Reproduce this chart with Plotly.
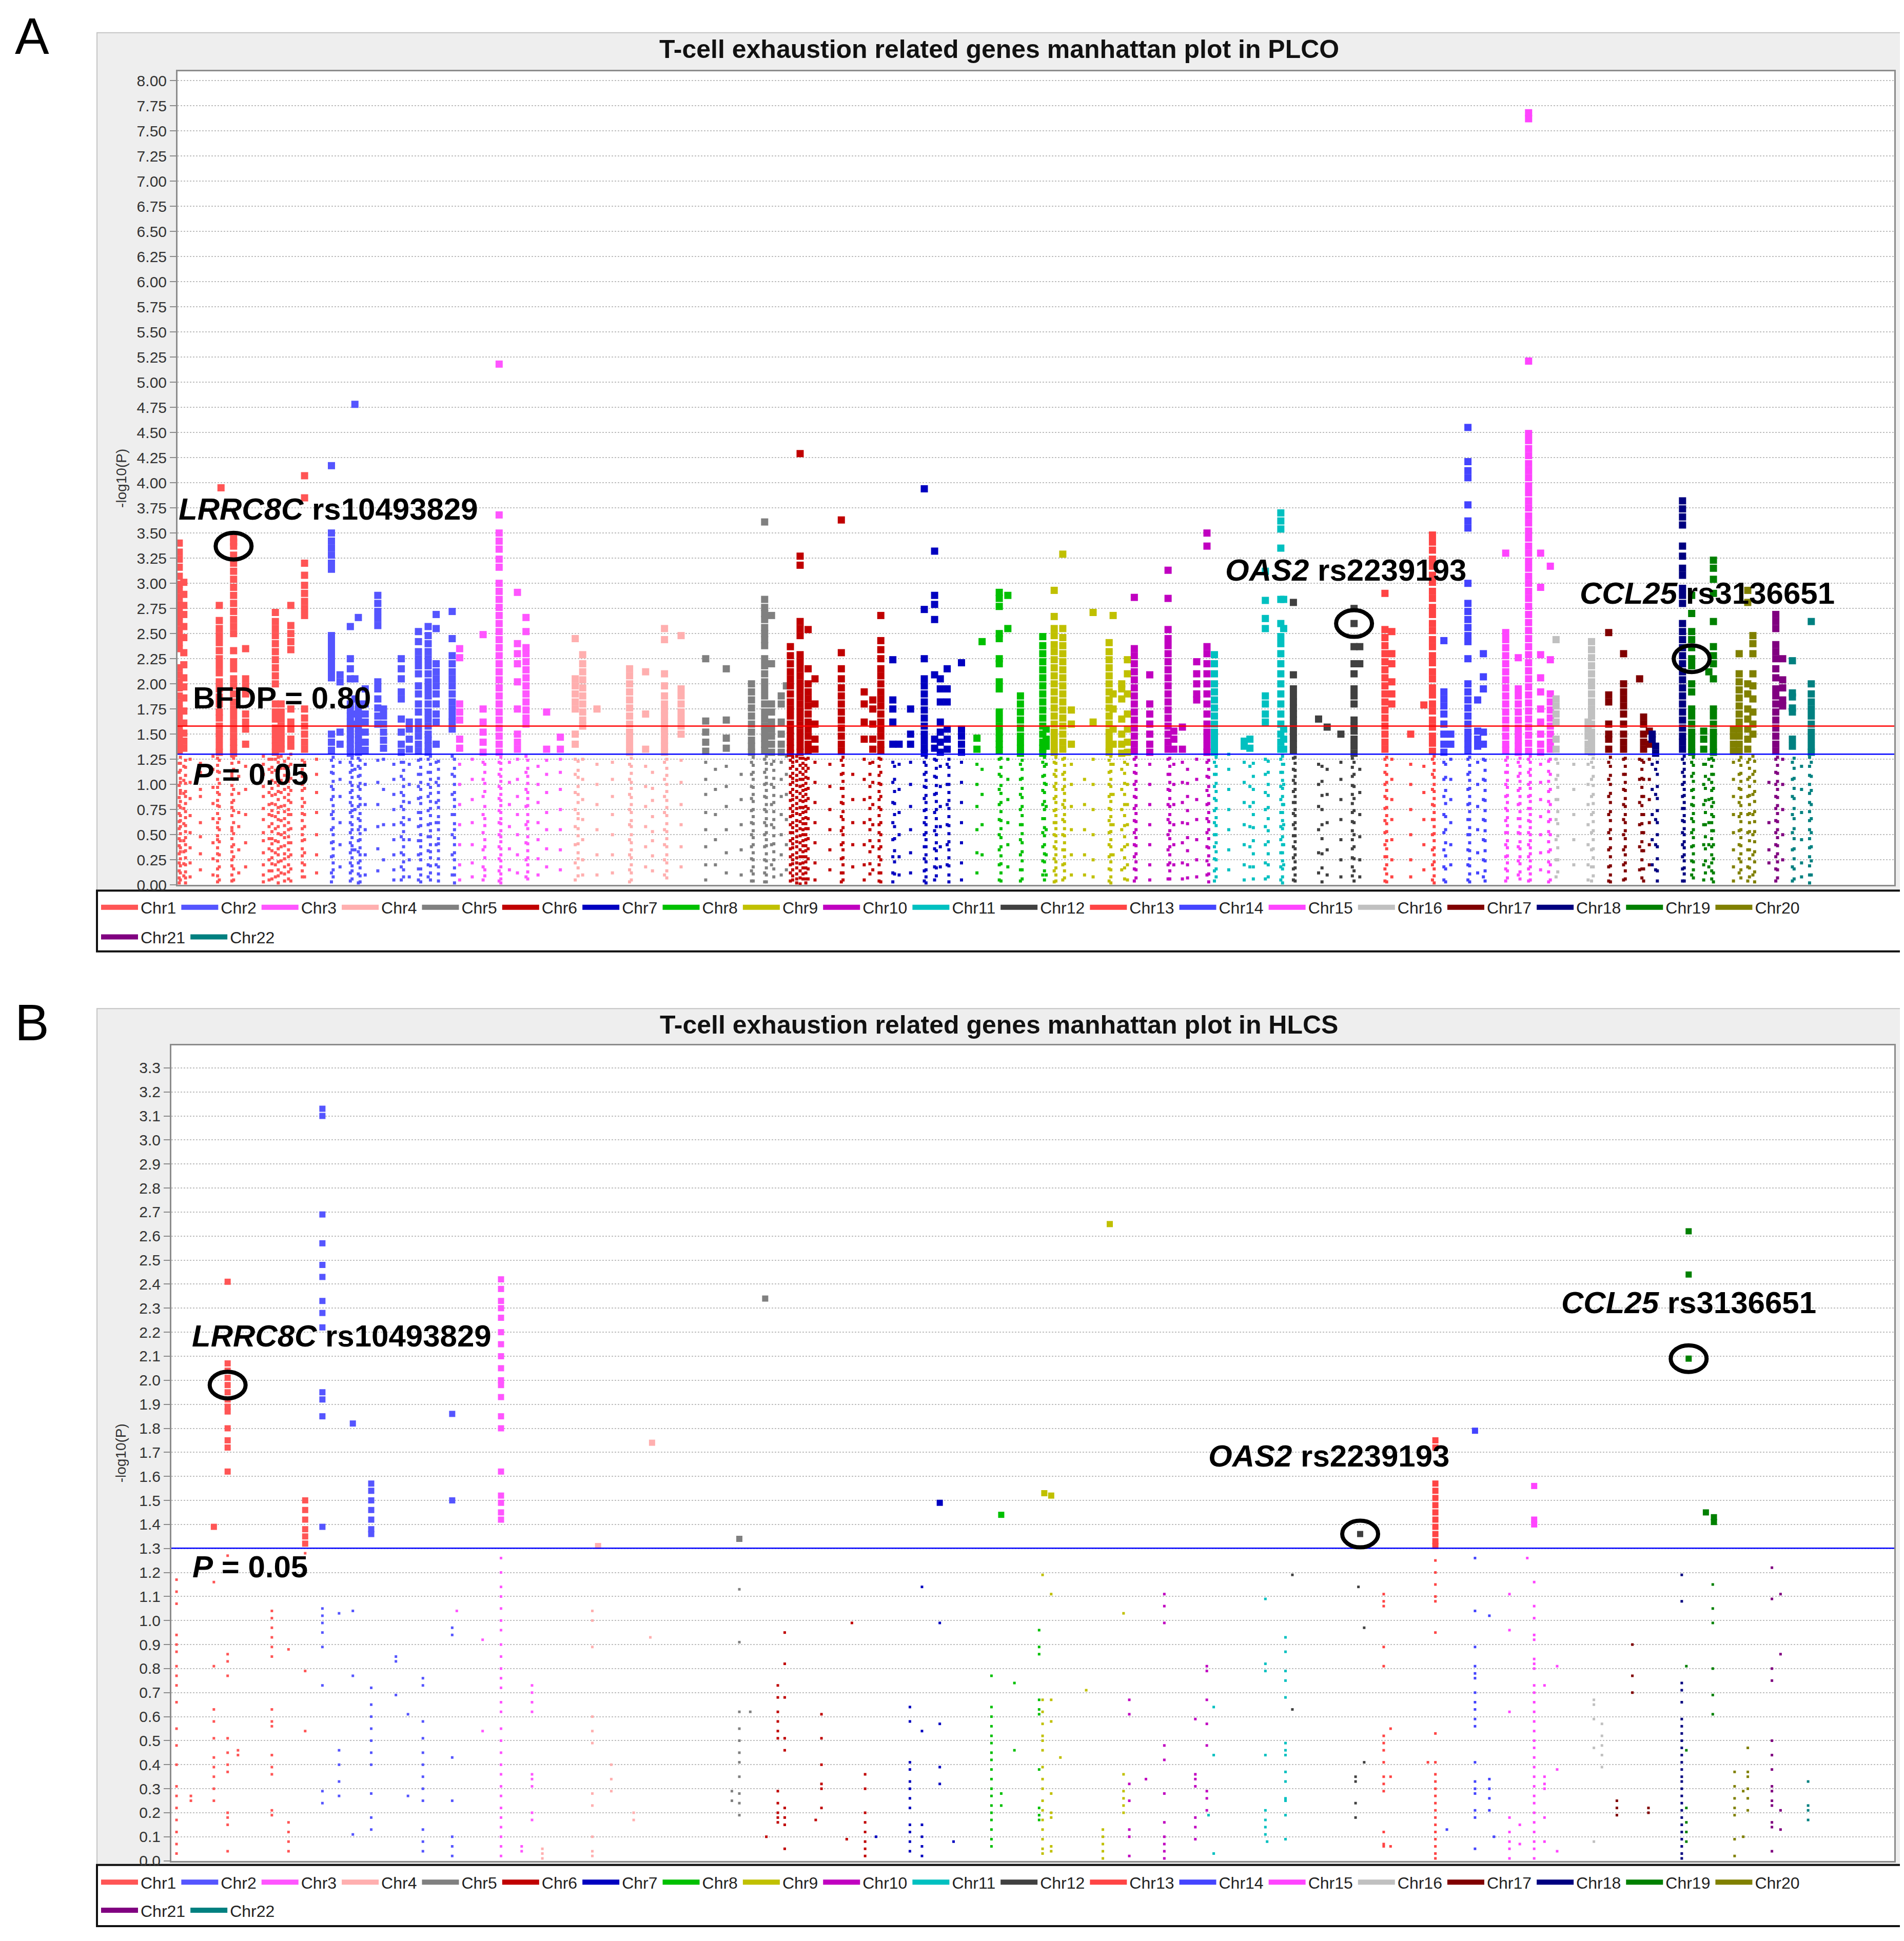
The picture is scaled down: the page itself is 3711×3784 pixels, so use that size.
import plotly.graph_objects as go

W, H = 3711, 3784
FONT = "Liberation Sans"

CHROMS = [f"Chr{i}" for i in range(1, 23)]
CHR_COLORS = ["#FF5555", "#5555FF", "#FF55FF", "#FFAFAF", "#808080", "#C00000",
              "#0000C0", "#00C000", "#C0C000", "#C000C0", "#00C0C0", "#404040",
              "#FF4444", "#4444FF", "#FF44FF", "#C0C0C0", "#800000", "#000080",
              "#008000", "#808000", "#800080", "#008080"]

P05_LINE = 1.30103      # -log10(0.05)
BFDP_LINE = 1.58        # BFDP = 0.80 line (PLCO only)

# ---------------- PLCO (panel A): (genome position, [-log10 P values]) ----------------
A_CHR1 = [
    (3, [3.40, 3.31, 3.24, 3.16, 3.07, 2.99, 2.93, 2.86, 2.79, 2.73, 2.67, 2.61, 2.54, 2.47, 2.41, 2.35, 2.16, 2.09, 2.02, 1.96, 1.88, 1.81, 1.75, 1.70, 1.63, 1.57, 1.52, 1.45, 1.39, 1.34, 1.21, 1.12, 0.99, 0.87, 0.79, 0.71, 0.63, 0.56, 0.46, 0.39, 0.31, 0.22, 0.14, 0.07, 0.02]),
    (5, [1.27, 1.21, 1.14, 1.06, 1.02, 0.94, 0.91, 0.83, 0.77, 0.69, 0.64, 0.58, 0.51, 0.44, 0.37, 0.33, 0.26, 0.19, 0.12, 0.05]),
    (11, [3.01, 2.89, 2.78, 2.69, 2.57, 2.46, 2.31, 2.19, 2.06, 1.97, 1.86, 1.73, 1.61, 1.51, 1.43, 1.36, 1.18, 1.04, 0.91, 0.76, 0.61, 0.44, 0.33, 0.21, 0.09]),
    (14, [1.24, 1.17, 1.09, 1.01, 0.93, 0.88, 0.81, 0.73, 0.67, 0.59, 0.53, 0.47, 0.40, 0.34, 0.27, 0.20, 0.13, 0.07, 0.02]),
    (22, [1.25, 1.02, 0.86, 0.69, 0.52, 0.37, 0.22, 0.08]),
    (40, [1.21, 1.12, 0.95, 0.88, 0.62, 0.48, 0.31, 0.15]),
    (62, [1.28, 1.15, 0.97, 0.81, 0.66, 0.42, 0.26, 0.10]),
    (70, [1.26, 1.19, 1.13, 1.05, 0.97, 0.92, 0.84, 0.79, 0.71, 0.62, 0.57, 0.49, 0.45, 0.37, 0.31, 0.24, 0.16, 0.09, 0.03]),
    (73, [2.78, 2.63, 2.55, 2.48, 2.41, 2.33, 2.25, 2.18, 2.11, 2.02, 1.95, 1.87, 1.80, 1.72, 1.66, 1.58, 1.51, 1.45, 1.38, 1.32, 1.24, 1.12, 1.01, 0.90, 0.78, 0.66, 0.55, 0.43, 0.30, 0.18, 0.05]),
    (76, [3.95]),
    (95, [1.28, 1.21, 1.11, 1.08, 0.99, 0.90, 0.82, 0.77, 0.69, 0.57, 0.54, 0.46, 0.38, 0.33, 0.25, 0.19, 0.10, 0.04]),
    (98, [3.45, 3.41, 3.37, 3.28, 3.20, 3.12, 3.04, 2.96, 2.88, 2.80, 2.72, 2.64, 2.57, 2.50, 2.33, 2.22, 2.15, 2.05, 1.98, 1.90, 1.82, 1.75, 1.68, 1.61, 1.55, 1.48, 1.42, 1.36, 1.31, 1.26, 1.15, 1.05, 0.95, 0.84, 0.74, 0.62, 0.51, 0.40, 0.28, 0.16, 0.05]),
    (107, [1.22, 1.08, 0.91, 0.72, 0.58, 0.35, 0.12]),
    (119, [2.35, 2.05, 1.98, 1.90, 1.70, 1.62, 1.55, 1.40, 1.18, 0.95, 0.70, 0.42, 0.18]),
    (150, [1.28, 1.20, 1.10, 0.98, 0.88, 0.76, 0.65, 0.52, 0.44, 0.32, 0.20, 0.10, 0.03]),
    (160, [1.25, 1.15, 1.02, 0.92, 0.80, 0.70, 0.58, 0.46, 0.36, 0.25, 0.14, 0.05]),
    (165, [1.25, 1.17, 1.12, 1.04, 0.96, 0.89, 0.81, 0.74, 0.69, 0.61, 0.53, 0.46, 0.41, 0.34, 0.27, 0.21, 0.14, 0.06]),
    (171, [2.71, 2.62, 2.55, 2.48, 2.40, 2.32, 2.24, 2.16, 2.08, 2.00, 1.80, 1.72, 1.65, 1.56, 1.50, 1.44, 1.38, 1.32, 1.25, 1.14, 1.02, 0.90, 0.80, 0.68, 0.56, 0.44, 0.32, 0.20, 0.08]),
    (176, [1.27, 1.22, 1.13, 1.07, 0.99, 0.93, 0.85, 0.77, 0.72, 0.65, 0.58, 0.51, 0.43, 0.36, 0.30, 0.23, 0.15, 0.09, 0.02]),
    (181, [1.80, 1.72, 1.65, 1.58, 1.52, 1.46, 1.40, 1.35, 1.28, 1.16, 1.04, 0.92, 0.78, 0.64, 0.50, 0.38, 0.24, 0.12]),
    (187, [1.23, 1.16, 1.09, 1.01, 0.95, 0.87, 0.79, 0.73, 0.66, 0.59, 0.52, 0.47, 0.39, 0.31, 0.26, 0.18, 0.11, 0.04]),
    (194, [1.26, 1.18, 1.10, 1.03, 0.97, 0.90, 0.84, 0.75, 0.70, 0.62, 0.55, 0.48, 0.42, 0.35, 0.28, 0.20, 0.13, 0.06]),
    (198, [2.78, 2.58, 2.50, 2.42, 2.34, 1.75, 1.62, 1.55, 1.45, 1.38, 1.30, 1.20, 1.06, 0.94, 0.82, 0.70, 0.56, 0.42, 0.30, 0.16, 0.04]),
    (218, [1.24, 1.15, 1.08, 1.00, 0.94, 0.86, 0.78, 0.71, 0.64, 0.56, 0.50, 0.44, 0.36, 0.29, 0.22, 0.14, 0.08]),
    (222, [4.07, 3.85, 3.20, 3.08, 2.98, 2.90, 2.82, 2.75, 2.68, 1.75, 1.66, 1.58, 1.50, 1.42, 1.35, 1.22, 1.08, 0.96, 0.82, 0.70, 0.58, 0.45, 0.32, 0.20, 0.08]),
    (243, [1.25, 1.10, 0.92, 0.72, 0.50, 0.30, 0.12]),
]
A_CHR2 = [
    (269, [4.17, 3.50, 3.42, 3.35, 3.28, 3.20, 3.14, 2.48, 2.42, 2.36, 2.30, 2.24, 2.18, 2.12, 2.06, 1.50, 1.42, 1.34, 1.24, 1.12, 0.98, 0.85, 0.70, 0.55, 0.42, 0.28, 0.12, 0.03]),
    (272, [1.27, 1.18, 1.11, 1.03, 0.95, 0.88, 0.79, 0.73, 0.66, 0.57, 0.50, 0.43, 0.36, 0.29, 0.22, 0.15, 0.08]),
    (284, [2.09, 2.02, 1.52, 1.40, 1.22, 1.05, 0.88, 0.62, 0.40, 0.18]),
    (302, [2.57, 2.25, 2.15, 2.05, 1.80, 1.74, 1.68, 1.62, 1.56, 1.50, 1.45, 1.40, 1.35, 1.31, 1.22, 1.12, 1.02, 0.92, 0.82, 0.72, 0.62, 0.52, 0.42, 0.32, 0.22, 0.12, 0.04]),
    (305, [1.26, 1.19, 1.14, 1.07, 0.99, 0.94, 0.87, 0.79, 0.74, 0.68, 0.60, 0.55, 0.47, 0.39, 0.35, 0.27, 0.19, 0.14, 0.06]),
    (310, [4.78, 2.05, 1.85, 1.70, 1.60, 1.15, 0.75, 0.35]),
    (316, [2.66, 1.80, 1.74, 1.68, 1.62, 1.56, 1.50, 1.44, 1.38, 1.32, 1.26, 1.18, 1.08, 0.98, 0.88, 0.78, 0.66, 0.55, 0.44, 0.33, 0.22, 0.11, 0.02]),
    (319, [1.24, 1.16, 1.09, 1.01, 0.95, 0.86, 0.80, 0.71, 0.64, 0.58, 0.51, 0.45, 0.37, 0.30, 0.24, 0.17, 0.09, 0.03]),
    (328, [1.95, 1.80, 1.70, 1.62, 1.52, 1.42, 1.34, 1.20, 1.00, 0.80, 0.55, 0.30, 0.10]),
    (350, [2.88, 2.80, 2.72, 2.65, 2.58, 2.02, 1.95, 1.85, 1.76, 1.68, 1.60, 1.24, 1.02, 0.80, 0.58, 0.36, 0.14]),
    (360, [1.75, 1.68, 1.60, 1.52, 1.44, 1.36, 1.25, 0.95, 0.60, 0.25]),
    (378, [1.20, 1.05, 0.90, 0.75, 0.60, 0.45, 0.30, 0.15, 0.05]),
    (391, [2.25, 2.15, 2.05, 1.92, 1.85, 1.65, 1.52, 1.40, 1.32, 1.22, 1.08, 0.92, 0.78, 0.62, 0.48, 0.32, 0.18, 0.05]),
    (395, [1.22, 1.14, 1.05, 0.98, 0.89, 0.83, 0.75, 0.67, 0.60, 0.53, 0.45, 0.38, 0.30, 0.23, 0.15, 0.08]),
    (405, [1.62, 1.55, 1.45, 1.35, 1.20, 1.00, 0.82, 0.65, 0.45, 0.25, 0.08]),
    (421, [2.52, 2.42, 2.32, 2.25, 2.18, 2.10, 1.98, 1.90, 1.80, 1.72, 1.62, 1.55, 1.48, 1.40, 1.33, 1.24, 1.10, 0.98, 0.86, 0.72, 0.58, 0.44, 0.30, 0.16, 0.05]),
    (425, [1.25, 1.17, 1.10, 1.02, 0.95, 0.87, 0.81, 0.72, 0.66, 0.59, 0.50, 0.44, 0.38, 0.31, 0.25, 0.16, 0.10, 0.03]),
    (438, [2.57, 2.48, 2.40, 2.32, 2.25, 2.18, 2.10, 2.02, 1.95, 1.88, 1.80, 1.72, 1.65, 1.58, 1.50, 1.44, 1.38, 1.32, 1.25, 1.12, 1.00, 0.88, 0.74, 0.60, 0.48, 0.34, 0.20, 0.08]),
    (442, [1.28, 1.20, 1.12, 1.05, 0.97, 0.91, 0.83, 0.76, 0.69, 0.61, 0.54, 0.48, 0.40, 0.33, 0.27, 0.19, 0.12, 0.05]),
    (452, [2.69, 2.55, 2.20, 2.12, 2.05, 1.98, 1.90, 1.80, 1.70, 1.62, 1.40, 1.22, 1.02, 0.82, 0.62, 0.40, 0.20]),
    (456, [1.23, 1.15, 1.06, 0.99, 0.92, 0.84, 0.77, 0.68, 0.62, 0.55, 0.46, 0.41, 0.34, 0.26, 0.18, 0.11, 0.04]),
    (480, [2.72, 2.45, 2.28, 2.20, 2.12, 2.05, 1.98, 1.90, 1.82, 1.75, 1.68, 1.62, 1.55, 1.28, 1.10, 0.90, 0.70, 0.50, 0.30, 0.10]),
    (484, [1.25, 1.16, 1.08, 1.00, 0.92, 0.85, 0.78, 0.70, 0.61, 0.55, 0.47, 0.40, 0.32, 0.25, 0.17, 0.10, 0.02]),
]
A_CHR3 = [
    (493, [2.35, 2.26, 1.80, 1.72, 1.64, 1.45, 1.36, 1.20, 1.00, 0.80, 0.60, 0.40, 0.20, 0.05]),
    (515, [1.25, 1.05, 0.85, 0.62, 0.40, 0.22, 0.08]),
    (534, [2.49, 1.75, 1.62, 1.52, 1.42, 1.32, 1.22, 1.05, 0.88, 0.70, 0.52, 0.35, 0.18, 0.05]),
    (537, [1.20, 1.12, 1.01, 0.93, 0.78, 0.66, 0.59, 0.45, 0.38, 0.27, 0.15, 0.09]),
    (562, [5.18, 3.68, 3.50, 3.42, 3.34, 3.24, 3.16, 3.00, 2.92, 2.84, 2.76, 2.68, 2.60, 2.52, 2.44, 2.36, 2.28, 2.20, 2.12, 2.04, 1.96, 1.88, 1.80, 1.72, 1.64, 1.56, 1.48, 1.40, 1.32, 1.22, 1.10, 0.98, 0.86, 0.74, 0.62, 0.50, 0.38, 0.26, 0.14, 0.04]),
    (565, [1.27, 1.21, 1.15, 1.08, 1.03, 0.96, 0.90, 0.84, 0.79, 0.72, 0.66, 0.61, 0.54, 0.48, 0.43, 0.36, 0.30, 0.24, 0.18, 0.11, 0.06, 0.02]),
    (580, [1.22, 1.02, 0.80, 0.58, 0.36, 0.15]),
    (594, [2.91, 2.40, 2.30, 2.20, 2.02, 1.75, 1.50, 1.42, 1.35, 1.25, 1.05, 0.88, 0.70, 0.50, 0.30, 0.12]),
    (609, [2.66, 2.52, 2.36, 2.30, 2.22, 2.14, 2.06, 1.98, 1.90, 1.82, 1.74, 1.66, 1.60, 1.28, 1.12, 0.95, 0.78, 0.60, 0.42, 0.25, 0.08]),
    (612, [1.24, 1.16, 1.08, 1.01, 0.92, 0.86, 0.79, 0.70, 0.63, 0.56, 0.48, 0.41, 0.34, 0.27, 0.20, 0.13, 0.06]),
    (630, [1.18, 1.00, 0.82, 0.62, 0.45, 0.26, 0.10]),
    (645, [1.72, 1.35, 1.24, 1.10, 0.92, 0.72, 0.55, 0.36, 0.18]),
    (669, [1.47, 1.35, 1.25, 1.12, 0.95, 0.75, 0.55, 0.35, 0.15]),
]
A_CHR4 = [
    (695, [2.45, 2.05, 1.98, 1.90, 1.82, 1.75, 1.50, 1.40, 1.25, 1.10, 0.92, 0.75, 0.58, 0.40, 0.22, 0.05]),
    (700, [1.23, 1.14, 1.07, 0.98, 0.90, 0.82, 0.71, 0.66, 0.56, 0.49, 0.41, 0.32, 0.26, 0.17, 0.09]),
    (708, [2.29, 2.20, 2.12, 2.04, 1.96, 1.88, 1.80, 1.72, 1.64, 1.58, 1.25, 1.05, 0.85, 0.65, 0.45, 0.25, 0.10]),
    (733, [1.75, 1.20, 1.00, 0.80, 0.55, 0.30, 0.10]),
    (760, [1.22, 1.05, 0.88, 0.70, 0.50, 0.30, 0.12]),
    (790, [2.15, 2.08, 2.00, 1.92, 1.84, 1.76, 1.68, 1.60, 1.52, 1.45, 1.38, 1.32, 1.20, 1.05, 0.90, 0.75, 0.60, 0.45, 0.30, 0.15, 0.03]),
    (793, [1.26, 1.18, 1.11, 1.02, 0.96, 0.87, 0.80, 0.72, 0.64, 0.58, 0.50, 0.42, 0.35, 0.27, 0.20, 0.12, 0.05]),
    (818, [2.12, 1.70, 1.35, 1.18, 0.98, 0.78, 0.58, 0.38, 0.18]),
    (830, [1.12, 0.96, 0.84, 0.68, 0.53, 0.44, 0.29, 0.14]),
    (851, [2.55, 2.44, 2.10, 1.98, 1.88, 1.80, 1.74, 1.68, 1.62, 1.56, 1.50, 1.44, 1.38, 1.32, 1.22, 1.05, 0.88, 0.72, 0.55, 0.40, 0.25, 0.10]),
    (855, [1.25, 1.16, 1.09, 1.00, 0.93, 0.84, 0.77, 0.69, 0.61, 0.53, 0.46, 0.38, 0.30, 0.22, 0.14, 0.07]),
    (880, [2.48, 1.95, 1.88, 1.80, 1.72, 1.65, 1.58, 1.50, 1.24, 1.02, 0.80, 0.60, 0.38, 0.18]),
]
A_CHR5 = [
    (923, [2.25, 1.63, 1.52, 1.42, 1.33, 1.22, 1.05, 0.90, 0.72, 0.55, 0.38, 0.20, 0.05]),
    (940, [1.15, 0.95, 0.70, 0.45, 0.20]),
    (959, [2.15, 1.64, 1.46, 1.36, 1.18, 0.98, 0.78, 0.55, 0.32, 0.12]),
    (985, [1.10, 0.85, 0.60, 0.35, 0.10]),
    (1003, [2.00, 1.92, 1.84, 1.76, 1.68, 1.60, 1.52, 1.44, 1.38, 1.32, 1.22, 1.10, 0.98, 0.86, 0.74, 0.62, 0.50, 0.38, 0.26, 0.14, 0.04]),
    (1006, [1.27, 1.19, 1.12, 1.05, 0.97, 0.90, 0.83, 0.75, 0.68, 0.61, 0.54, 0.47, 0.40, 0.32, 0.25, 0.18, 0.11, 0.04]),
    (1026, [3.61, 2.84, 2.76, 2.70, 2.64, 2.56, 2.50, 2.44, 2.38, 2.25, 2.18, 2.10, 2.02, 1.95, 1.88, 1.80, 1.72, 1.65, 1.58, 1.52, 1.46, 1.40, 1.34, 1.25, 1.12, 1.00, 0.88, 0.75, 0.62, 0.50, 0.38, 0.25, 0.12, 0.03]),
    (1029, [1.28, 1.21, 1.15, 1.07, 1.01, 0.94, 0.87, 0.80, 0.73, 0.66, 0.59, 0.52, 0.45, 0.39, 0.31, 0.24, 0.17, 0.10, 0.03]),
    (1038, [2.68, 2.20, 1.80, 1.72, 1.62, 1.55, 1.48, 1.40, 1.32, 1.20, 1.00, 0.80, 0.60, 0.40, 0.20]),
    (1042, [1.23, 1.14, 1.06, 0.97, 0.89, 0.82, 0.73, 0.65, 0.57, 0.49, 0.41, 0.33, 0.25, 0.16, 0.08]),
    (1055, [1.88, 1.80, 1.62, 1.50, 1.40, 1.32, 1.22, 1.05, 0.88, 0.70, 0.50, 0.30, 0.10]),
    (1064, [1.98, 1.28, 1.10, 0.90, 0.65, 0.40, 0.15]),
]
A_CHR6 = [
    (1071, [2.37, 2.28, 2.20, 2.12, 2.05, 1.98, 1.90, 1.82, 1.75, 1.68, 1.60, 1.54, 1.48, 1.42, 1.36, 1.31, 1.24, 1.16, 1.08, 1.00, 0.92, 0.84, 0.76, 0.68, 0.60, 0.52, 0.44, 0.36, 0.28, 0.20, 0.12, 0.04]),
    (1075, [1.27, 1.22, 1.18, 1.11, 1.06, 1.02, 0.95, 0.89, 0.85, 0.79, 0.73, 0.69, 0.62, 0.57, 0.52, 0.46, 0.41, 0.37, 0.30, 0.25, 0.21, 0.15, 0.09, 0.05]),
    (1082, [1.28, 1.23, 1.15, 1.09, 1.04, 0.99, 0.93, 0.87, 0.81, 0.76, 0.71, 0.64, 0.59, 0.54, 0.48, 0.43, 0.38, 0.32, 0.27, 0.22, 0.17, 0.11, 0.06, 0.02]),
    (1088, [4.29, 3.27, 3.18, 2.62, 2.55, 2.48, 2.29, 2.22, 2.15, 2.08, 2.01, 1.94, 1.87, 1.80, 1.73, 1.66, 1.59, 1.52, 1.45, 1.38, 1.32, 1.26, 1.19, 1.12, 1.05, 0.98, 0.91, 0.84, 0.77, 0.70, 0.63, 0.56, 0.49, 0.42, 0.35, 0.28, 0.21, 0.14, 0.07, 0.01]),
    (1093, [1.26, 1.21, 1.16, 1.10, 1.05, 0.99, 0.94, 0.88, 0.83, 0.77, 0.72, 0.66, 0.61, 0.55, 0.50, 0.44, 0.39, 0.33, 0.28, 0.22, 0.17, 0.11, 0.06]),
    (1098, [1.25, 1.19, 1.13, 1.07, 1.01, 0.95, 0.90, 0.84, 0.78, 0.73, 0.67, 0.61, 0.56, 0.50, 0.45, 0.39, 0.34, 0.28, 0.23, 0.17, 0.12, 0.06, 0.02]),
    (1102, [2.54, 2.15, 2.00, 1.92, 1.85, 1.78, 1.70, 1.62, 1.55, 1.48, 1.40, 1.34, 1.26, 1.16, 1.06, 0.96, 0.86, 0.76, 0.66, 0.56, 0.46, 0.36, 0.26, 0.16, 0.06]),
    (1114, [2.05, 1.80, 1.60, 1.45, 1.35, 1.22, 1.02, 0.82, 0.62, 0.42, 0.22, 0.05]),
    (1140, [1.20, 0.98, 0.75, 0.55, 0.35, 0.15]),
    (1160, [3.63, 2.31, 2.15, 2.05, 1.96, 1.88, 1.80, 1.72, 1.64, 1.56, 1.48, 1.40, 1.33, 1.24, 1.10, 0.96, 0.82, 0.68, 0.54, 0.40, 0.26, 0.12, 0.03]),
    (1163, [1.27, 1.19, 1.11, 1.03, 0.96, 0.88, 0.81, 0.73, 0.65, 0.57, 0.50, 0.42, 0.35, 0.27, 0.20, 0.12, 0.05]),
    (1180, [1.10, 0.85, 0.62, 0.40, 0.18]),
    (1200, [1.92, 1.80, 1.62, 1.45, 1.25, 1.05, 0.85, 0.62, 0.40, 0.20, 0.05]),
    (1210, [1.21, 1.10, 0.98, 0.87, 0.76, 0.65, 0.55, 0.44, 0.33, 0.21, 0.11]),
    (1215, [1.84, 1.75, 1.60, 1.45, 1.35, 1.22, 1.02, 0.80, 0.60, 0.38, 0.15]),
    (1226, [1.26, 1.18, 1.09, 1.01, 0.93, 0.85, 0.77, 0.69, 0.60, 0.52, 0.44, 0.36, 0.28, 0.20, 0.12, 0.04]),
    (1229, [2.68, 2.43, 2.34, 2.25, 2.15, 2.08, 2.00, 1.92, 1.85, 1.78, 1.70, 1.62, 1.55, 1.48, 1.40, 1.34, 1.25, 1.12, 1.00, 0.88, 0.75, 0.62, 0.50, 0.38, 0.25, 0.12, 0.03]),
]
A_CHR7 = [
    (1250, [2.24, 1.84, 1.75, 1.62, 1.40, 1.22, 1.02, 0.82, 0.62, 0.45, 0.28, 0.12, 0.03]),
    (1253, [1.18, 1.05, 0.93, 0.81, 0.70, 0.58, 0.46, 0.34, 0.23, 0.11]),
    (1261, [1.40, 1.20, 0.95, 0.72, 0.50, 0.28, 0.10]),
    (1281, [1.75, 1.50, 1.40, 1.22, 1.00, 0.78, 0.55, 0.32, 0.12]),
    (1305, [3.94, 2.74, 2.25, 2.05, 1.98, 1.90, 1.82, 1.74, 1.66, 1.58, 1.50, 1.43, 1.36, 1.31, 1.22, 1.10, 0.98, 0.86, 0.74, 0.62, 0.50, 0.38, 0.26, 0.14, 0.04]),
    (1308, [1.27, 1.19, 1.12, 1.04, 0.97, 0.89, 0.82, 0.75, 0.67, 0.60, 0.52, 0.45, 0.38, 0.30, 0.23, 0.15, 0.08, 0.02]),
    (1323, [3.32, 2.88, 2.79, 2.64, 2.09, 1.45, 1.36, 1.25, 1.08, 0.90, 0.72, 0.54, 0.36, 0.18, 0.05]),
    (1326, [1.24, 1.16, 1.07, 0.99, 0.91, 0.83, 0.75, 0.66, 0.58, 0.50, 0.42, 0.34, 0.26, 0.17, 0.09]),
    (1333, [2.05, 1.95, 1.82, 1.62, 1.52, 1.42, 1.32, 1.18, 0.98, 0.78, 0.58, 0.38, 0.18]),
    (1345, [2.15, 1.95, 1.82, 1.55, 1.45, 1.35, 1.20, 1.00, 0.80, 0.60, 0.40, 0.20]),
    (1348, [1.25, 1.17, 1.09, 1.00, 0.92, 0.84, 0.76, 0.68, 0.59, 0.51, 0.43, 0.35, 0.27, 0.19, 0.10, 0.03]),
    (1370, [2.21, 1.55, 1.48, 1.40, 1.32, 1.22, 1.02, 0.82, 0.62, 0.42, 0.22, 0.05]),
]
A_CHR8 = [
    (1397, [1.46, 1.35, 1.20, 1.00, 0.78, 0.55, 0.32, 0.12]),
    (1406, [2.42, 1.15, 0.90, 0.60, 0.30]),
    (1436, [2.91, 2.85, 2.77, 2.50, 2.45, 2.25, 2.20, 2.02, 1.95, 1.72, 1.65, 1.58, 1.52, 1.46, 1.40, 1.34, 1.25, 1.10, 0.95, 0.80, 0.65, 0.50, 0.35, 0.20, 0.05]),
    (1439, [1.26, 1.17, 1.08, 0.99, 0.91, 0.82, 0.73, 0.64, 0.56, 0.47, 0.38, 0.29, 0.21, 0.12, 0.04]),
    (1451, [2.88, 2.55, 1.25, 1.05, 0.85, 0.62, 0.40, 0.18]),
    (1473, [1.88, 1.80, 1.72, 1.64, 1.56, 1.48, 1.42, 1.36, 1.31, 1.20, 1.05, 0.90, 0.75, 0.60, 0.45, 0.30, 0.15, 0.04]),
    (1476, [1.24, 1.15, 1.06, 0.96, 0.87, 0.78, 0.69, 0.60, 0.51, 0.42, 0.33, 0.24, 0.15, 0.06]),
    (1512, [2.47, 2.38, 2.30, 2.22, 2.14, 2.06, 1.98, 1.90, 1.82, 1.74, 1.66, 1.58, 1.50, 1.42, 1.36, 1.31, 1.22, 1.08, 0.94, 0.80, 0.66, 0.52, 0.38, 0.24, 0.10]),
    (1515, [1.27, 1.18, 1.09, 1.01, 0.92, 0.83, 0.75, 0.66, 0.57, 0.49, 0.40, 0.31, 0.23, 0.14, 0.05]),
    (1518, [1.55, 1.45, 1.38, 1.20, 1.00, 0.78, 0.55, 0.30, 0.10]),
]
A_CHR9 = [
    (1532, [2.93, 2.67, 2.55, 2.48, 2.39, 2.32, 2.24, 2.16, 2.08, 2.00, 1.92, 1.84, 1.76, 1.68, 1.60, 1.52, 1.45, 1.38, 1.32, 1.22, 1.10, 0.98, 0.86, 0.74, 0.62, 0.50, 0.38, 0.26, 0.14, 0.03]),
    (1535, [1.27, 1.21, 1.14, 1.08, 1.01, 0.95, 0.88, 0.82, 0.75, 0.69, 0.62, 0.56, 0.49, 0.43, 0.36, 0.30, 0.23, 0.17, 0.10, 0.04]),
    (1547, [3.29, 2.55, 2.46, 2.38, 2.30, 2.22, 2.14, 2.06, 1.98, 1.90, 1.82, 1.74, 1.66, 1.58, 1.50, 1.42, 1.35, 1.25, 1.10, 0.95, 0.80, 0.65, 0.50, 0.35, 0.20, 0.05]),
    (1550, [1.26, 1.19, 1.12, 1.05, 0.98, 0.91, 0.84, 0.77, 0.70, 0.63, 0.56, 0.49, 0.42, 0.35, 0.28, 0.21, 0.14, 0.07]),
    (1562, [1.74, 1.60, 1.40, 1.20, 1.00, 0.78, 0.55, 0.30, 0.10]),
    (1585, [1.05, 0.80, 0.55, 0.30, 0.10]),
    (1600, [2.71, 1.62, 1.25, 1.00, 0.75, 0.50, 0.25, 0.08]),
    (1628, [2.41, 2.32, 2.24, 2.16, 2.08, 2.00, 1.92, 1.84, 1.76, 1.68, 1.60, 1.52, 1.45, 1.38, 1.32, 1.24, 1.12, 1.00, 0.88, 0.76, 0.64, 0.52, 0.40, 0.28, 0.16, 0.04]),
    (1631, [1.28, 1.20, 1.13, 1.05, 0.98, 0.90, 0.83, 0.75, 0.68, 0.60, 0.53, 0.45, 0.38, 0.30, 0.23, 0.15, 0.08, 0.02]),
    (1635, [2.68, 1.90, 1.75, 1.55, 1.40, 1.20, 0.90, 0.60, 0.30]),
    (1650, [2.00, 1.95, 1.85, 1.65, 1.50, 1.40, 1.31, 1.15, 0.95, 0.75, 0.55, 0.35, 0.15]),
    (1655, [1.22, 1.11, 1.01, 0.90, 0.80, 0.69, 0.59, 0.48, 0.38, 0.27, 0.17, 0.06]),
    (1660, [2.24, 2.10, 1.90, 1.70, 1.55, 1.42, 1.32, 1.20, 1.00, 0.80, 0.60, 0.40, 0.20, 0.05]),
]
A_CHR10 = [
    (1672, [2.86, 2.35, 2.28, 2.20, 2.12, 2.04, 1.96, 1.88, 1.80, 1.72, 1.64, 1.56, 1.48, 1.40, 1.33, 1.25, 1.12, 1.00, 0.88, 0.76, 0.64, 0.52, 0.40, 0.28, 0.16, 0.04]),
    (1675, [1.27, 1.19, 1.11, 1.03, 0.95, 0.87, 0.79, 0.71, 0.63, 0.55, 0.47, 0.39, 0.31, 0.23, 0.15, 0.07]),
    (1699, [2.09, 1.80, 1.70, 1.60, 1.50, 1.40, 1.32, 1.20, 1.00, 0.80, 0.60, 0.40, 0.20, 0.05]),
    (1731, [3.13, 2.85, 2.54, 2.45, 2.38, 2.30, 2.22, 2.14, 2.06, 1.98, 1.90, 1.82, 1.74, 1.66, 1.58, 1.50, 1.42, 1.35, 1.25, 1.10, 0.95, 0.80, 0.65, 0.50, 0.35, 0.20, 0.06]),
    (1734, [1.26, 1.18, 1.10, 1.02, 0.94, 0.86, 0.78, 0.70, 0.62, 0.54, 0.46, 0.38, 0.30, 0.22, 0.14, 0.06]),
    (1741, [1.53, 1.45, 1.35, 1.20, 1.00, 0.80, 0.60, 0.40, 0.20]),
    (1756, [1.57, 1.35, 1.22, 1.02, 0.82, 0.62, 0.42, 0.22, 0.06]),
    (1765, [1.15, 1.01, 0.88, 0.74, 0.61, 0.47, 0.34, 0.20, 0.07]),
    (1781, [2.22, 2.10, 2.00, 1.90, 1.84, 1.25, 1.05, 0.85, 0.65, 0.45, 0.25, 0.08]),
    (1799, [3.50, 3.37, 2.37, 2.30, 2.20, 2.10, 2.00, 1.90, 1.80, 1.70, 1.60, 1.52, 1.45, 1.38, 1.32, 1.22, 1.08, 0.94, 0.80, 0.66, 0.52, 0.38, 0.24, 0.10]),
    (1802, [1.24, 1.15, 1.07, 0.98, 0.89, 0.81, 0.72, 0.63, 0.55, 0.46, 0.37, 0.29, 0.20, 0.11, 0.03]),
]
A_CHR11 = [
    (1812, [2.29, 2.20, 2.10, 2.00, 1.92, 1.84, 1.76, 1.68, 1.60, 1.52, 1.45, 1.38, 1.32, 1.22, 1.10, 0.98, 0.86, 0.74, 0.62, 0.50, 0.38, 0.26, 0.14, 0.04]),
    (1815, [1.27, 1.18, 1.10, 1.01, 0.93, 0.84, 0.76, 0.67, 0.59, 0.50, 0.42, 0.33, 0.25, 0.16, 0.08]),
    (1837, [1.30, 1.15, 0.95, 0.75, 0.55, 0.35, 0.15]),
    (1864, [1.43, 1.38, 1.22, 1.02, 0.82, 0.60, 0.40, 0.20, 0.05]),
    (1874, [1.45, 1.36, 1.18, 0.98, 0.78, 0.58, 0.38, 0.18]),
    (1880, [1.21, 1.08, 0.95, 0.82, 0.70, 0.57, 0.44, 0.31, 0.18, 0.06]),
    (1901, [3.12, 2.83, 2.65, 2.55, 1.88, 1.80, 1.70, 1.62, 1.25, 1.10, 0.92, 0.75, 0.58, 0.40, 0.22, 0.06]),
    (1906, [1.23, 1.12, 1.00, 0.89, 0.77, 0.66, 0.54, 0.43, 0.31, 0.20, 0.08]),
    (1928, [3.70, 3.62, 3.54, 3.35, 2.84, 2.60, 2.47, 2.40, 2.30, 2.20, 2.10, 2.00, 1.90, 1.80, 1.70, 1.60, 1.50, 1.42, 1.35, 1.25, 1.12, 0.98, 0.85, 0.72, 0.58, 0.45, 0.32, 0.18, 0.05]),
    (1931, [1.28, 1.20, 1.12, 1.04, 0.96, 0.88, 0.80, 0.72, 0.64, 0.56, 0.48, 0.40, 0.32, 0.24, 0.16, 0.08, 0.02]),
    (1933, [2.84, 2.55, 1.55, 1.45, 1.35, 1.20, 1.00, 0.80, 0.60, 0.40, 0.20]),
]
A_CHR12 = [
    (1950, [2.81, 2.09, 1.95, 1.88, 1.82, 1.76, 1.70, 1.64, 1.58, 1.52, 1.46, 1.40, 1.34, 1.26, 1.15, 1.04, 0.93, 0.82, 0.71, 0.60, 0.49, 0.38, 0.27, 0.16, 0.05]),
    (1953, [1.27, 1.21, 1.14, 1.08, 1.01, 0.95, 0.88, 0.82, 0.75, 0.69, 0.62, 0.56, 0.49, 0.43, 0.36, 0.30, 0.23, 0.17, 0.10, 0.04]),
    (1994, [1.65, 1.20, 1.00, 0.78, 0.55, 0.32, 0.12]),
    (2000, [1.18, 1.03, 0.89, 0.75, 0.60, 0.46, 0.31, 0.17, 0.03]),
    (2009, [1.57, 1.15, 0.90, 0.62, 0.35, 0.10]),
    (2033, [1.50, 1.22, 1.05, 0.85, 0.65, 0.45, 0.25, 0.08]),
    (2053, [1.26, 1.17, 1.08, 0.99, 0.90, 0.81, 0.72, 0.63, 0.54, 0.45, 0.36, 0.27, 0.18, 0.09]),
    (2056, [2.75, 2.60, 2.37, 2.20, 2.10, 1.95, 1.88, 1.80, 1.64, 1.58, 1.53, 1.45, 1.38, 1.31, 1.22, 1.10, 0.98, 0.86, 0.74, 0.62, 0.50, 0.38, 0.26, 0.14, 0.04]),
    (2066, [2.37, 2.20, 1.15, 0.92, 0.70, 0.48, 0.25, 0.08]),
]
A_CHR13 = [
    (2110, [2.90, 2.54, 2.46, 2.38, 2.30, 2.22, 2.14, 2.06, 1.98, 1.90, 1.82, 1.74, 1.66, 1.58, 1.50, 1.42, 1.35, 1.25, 1.12, 1.00, 0.88, 0.76, 0.64, 0.52, 0.40, 0.28, 0.16, 0.04]),
    (2113, [1.27, 1.19, 1.10, 1.02, 0.94, 0.86, 0.77, 0.69, 0.61, 0.53, 0.44, 0.36, 0.28, 0.20, 0.11, 0.03]),
    (2122, [2.52, 2.30, 2.20, 2.02, 1.90, 1.80, 1.25, 1.05, 0.85, 0.65, 0.45, 0.25, 0.08]),
    (2155, [1.50, 1.20, 1.00, 0.75, 0.50, 0.25, 0.08]),
    (2178, [1.79, 1.18, 0.92, 0.65, 0.40, 0.15]),
    (2193, [3.48, 3.41, 3.33, 3.24, 3.17, 3.08, 3.01, 2.92, 2.85, 2.76, 2.69, 2.60, 2.53, 2.44, 2.37, 2.28, 2.21, 2.12, 2.05, 1.96, 1.89, 1.80, 1.73, 1.64, 1.57, 1.48, 1.41, 1.33, 1.25, 1.10, 0.95, 0.80, 0.65, 0.50, 0.35, 0.20, 0.05]),
    (2196, [1.28, 1.21, 1.14, 1.07, 1.00, 0.93, 0.86, 0.79, 0.72, 0.65, 0.58, 0.51, 0.44, 0.37, 0.30, 0.23, 0.16, 0.09, 0.02]),
]
A_CHR14 = [
    (2213, [2.43, 1.92, 1.85, 1.78, 1.70, 1.60, 1.50, 1.40, 1.32, 1.22, 1.05, 0.88, 0.70, 0.52, 0.35, 0.18, 0.05]),
    (2216, [1.20, 1.07, 0.94, 0.81, 0.68, 0.55, 0.42, 0.29, 0.16, 0.03]),
    (2225, [1.50, 1.40, 1.25, 1.05, 0.85, 0.62, 0.40, 0.20]),
    (2255, [4.55, 4.21, 4.12, 4.05, 3.78, 3.62, 3.55, 3.00, 2.80, 2.72, 2.64, 2.56, 2.48, 2.42, 2.25, 2.00, 1.92, 1.84, 1.76, 1.68, 1.60, 1.52, 1.46, 1.40, 1.34, 1.25, 1.10, 0.95, 0.80, 0.65, 0.50, 0.35, 0.20, 0.05]),
    (2258, [1.27, 1.19, 1.12, 1.04, 0.96, 0.88, 0.81, 0.73, 0.65, 0.57, 0.50, 0.42, 0.34, 0.26, 0.19, 0.11, 0.03]),
    (2272, [1.84, 1.53, 1.45, 1.38, 1.22, 1.00, 0.78, 0.55, 0.32, 0.12]),
    (2282, [2.30, 2.07, 1.95, 1.52, 1.40, 1.25, 1.05, 0.85, 0.65, 0.45, 0.25, 0.08]),
    (2285, [1.24, 1.14, 1.04, 0.94, 0.84, 0.74, 0.64, 0.54, 0.44, 0.34, 0.24, 0.14, 0.04]),
]
A_CHR15 = [
    (2321, [3.30, 2.51, 2.44, 2.36, 2.28, 2.20, 2.12, 2.04, 1.96, 1.88, 1.80, 1.72, 1.64, 1.56, 1.48, 1.40, 1.34, 1.24, 1.12, 1.00, 0.88, 0.76, 0.64, 0.52, 0.40, 0.28, 0.16, 0.04]),
    (2324, [1.27, 1.19, 1.12, 1.04, 0.97, 0.89, 0.82, 0.74, 0.67, 0.59, 0.52, 0.44, 0.37, 0.29, 0.22, 0.14, 0.07]),
    (2343, [2.26, 1.95, 1.88, 1.80, 1.72, 1.64, 1.56, 1.50, 1.44, 1.38, 1.32, 1.22, 1.08, 0.94, 0.80, 0.66, 0.52, 0.38, 0.24, 0.10]),
    (2346, [1.26, 1.18, 1.11, 1.03, 0.96, 0.88, 0.81, 0.73, 0.66, 0.58, 0.51, 0.43, 0.36, 0.28, 0.21, 0.13, 0.06]),
    (2361, [7.68, 7.62, 5.21, 4.49, 4.42, 4.34, 4.27, 4.19, 4.12, 4.05, 3.97, 3.90, 3.82, 3.75, 3.67, 3.60, 3.52, 3.45, 3.37, 3.30, 3.22, 3.15, 3.07, 3.00, 2.92, 2.85, 2.77, 2.69, 2.61, 2.53, 2.45, 2.37, 2.29, 2.21, 2.13, 2.05, 1.97, 1.89, 1.81, 1.73, 1.65, 1.57, 1.49, 1.41, 1.33, 1.25, 1.12, 1.00, 0.88, 0.76, 0.64, 0.52, 0.40, 0.28, 0.16, 0.04]),
    (2364, [1.28, 1.22, 1.15, 1.09, 1.02, 0.96, 0.89, 0.83, 0.76, 0.70, 0.63, 0.57, 0.50, 0.44, 0.37, 0.31, 0.24, 0.18, 0.11, 0.05]),
    (2382, [3.30, 2.96, 2.29, 2.06, 1.92, 1.75, 1.62, 1.50, 1.40, 1.32, 1.20, 1.02, 0.85, 0.68, 0.50, 0.32, 0.15]),
    (2396, [1.23, 1.13, 1.03, 0.93, 0.83, 0.73, 0.63, 0.53, 0.43, 0.33, 0.23, 0.13, 0.03]),
    (2399, [3.17, 2.24, 1.90, 1.82, 1.74, 1.66, 1.58, 1.50, 1.42, 1.35, 1.25, 1.10, 0.95, 0.80, 0.65, 0.50, 0.35, 0.20, 0.05]),
]
A_CHR16 = [
    (2409, [2.44, 1.85, 1.78, 1.70, 1.62, 1.45, 1.35, 1.25, 1.05, 0.85, 0.65, 0.45, 0.25, 0.08]),
    (2412, [1.21, 1.09, 0.97, 0.85, 0.73, 0.61, 0.49, 0.37, 0.25, 0.13]),
    (2440, [1.20, 0.95, 0.70, 0.45, 0.20]),
    (2465, [1.62, 1.55, 1.48, 1.40, 1.33, 1.20, 1.00, 0.80, 0.60, 0.40, 0.20, 0.05]),
    (2471, [2.42, 2.34, 2.26, 2.18, 2.10, 2.02, 1.98, 1.90, 1.82, 1.75, 1.68, 1.60, 1.52, 1.45, 1.38, 1.32, 1.22, 1.05, 0.88, 0.70, 0.52, 0.35, 0.18, 0.04]),
    (2474, [1.26, 1.17, 1.08, 0.99, 0.90, 0.81, 0.72, 0.63, 0.54, 0.45, 0.36, 0.27, 0.18, 0.09]),
]
A_CHR17 = [
    (2501, [2.51, 1.89, 1.82, 1.60, 1.50, 1.45, 1.35, 1.22, 1.05, 0.88, 0.70, 0.52, 0.35, 0.18, 0.04]),
    (2504, [1.27, 1.18, 1.09, 1.00, 0.91, 0.82, 0.73, 0.64, 0.55, 0.46, 0.37, 0.28, 0.19, 0.10, 0.03]),
    (2527, [2.30, 2.00, 1.92, 1.85, 1.78, 1.70, 1.60, 1.50, 1.42, 1.35, 1.25, 1.10, 0.95, 0.80, 0.65, 0.50, 0.35, 0.20, 0.05]),
    (2530, [1.26, 1.18, 1.10, 1.02, 0.94, 0.86, 0.78, 0.70, 0.62, 0.54, 0.46, 0.38, 0.30, 0.22, 0.14, 0.06]),
    (2555, [2.05, 1.25, 1.05, 0.82, 0.60, 0.38, 0.15]),
    (2559, [1.24, 1.15, 1.06, 0.97, 0.88, 0.79, 0.70, 0.61, 0.52, 0.43, 0.34, 0.25, 0.16, 0.07]),
    (2562, [1.67, 1.60, 1.50, 1.42, 1.35, 1.22, 1.05, 0.88, 0.70, 0.52, 0.34, 0.16, 0.04]),
    (2572, [1.53, 1.40, 1.25, 1.05, 0.85, 0.62, 0.40, 0.20]),
]
A_CHR18 = [
    (2577, [1.50, 1.45, 1.20, 0.95, 0.70, 0.45, 0.20]),
    (2583, [1.38, 1.31, 1.15, 0.90, 0.65, 0.40, 0.15]),
    (2586, [1.22, 1.10, 0.98, 0.86, 0.74, 0.62, 0.50, 0.38, 0.26, 0.14, 0.04]),
    (2630, [3.82, 3.74, 3.66, 3.58, 3.37, 3.27, 3.15, 3.08, 2.95, 2.88, 2.80, 2.60, 2.52, 2.44, 2.36, 2.28, 2.20, 2.12, 2.04, 1.96, 1.88, 1.80, 1.72, 1.64, 1.56, 1.48, 1.42, 1.35, 1.25, 1.12, 1.00, 0.88, 0.76, 0.64, 0.52, 0.40, 0.28, 0.16, 0.04]),
    (2633, [1.28, 1.21, 1.15, 1.08, 1.02, 0.95, 0.89, 0.82, 0.76, 0.69, 0.63, 0.56, 0.50, 0.43, 0.37, 0.30, 0.24, 0.17, 0.11, 0.04]),
]
A_CHR19 = [
    (2646, [2.88, 2.70, 2.52, 2.44, 2.36, 2.25, 2.18, 2.00, 1.92, 1.75, 1.68, 1.60, 1.52, 1.45, 1.38, 1.32, 1.22, 1.08, 0.94, 0.80, 0.66, 0.52, 0.38, 0.24, 0.10]),
    (2649, [1.27, 1.19, 1.11, 1.03, 0.95, 0.87, 0.79, 0.71, 0.63, 0.55, 0.47, 0.39, 0.31, 0.23, 0.15, 0.07]),
    (2667, [1.53, 1.45, 1.35, 1.20, 1.00, 0.80, 0.60, 0.40, 0.20, 0.05]),
    (2670, [1.20, 1.08, 0.96, 0.84, 0.72, 0.60, 0.48, 0.36, 0.24, 0.12]),
    (2676, [2.12, 1.25, 1.05, 0.85, 0.62, 0.40, 0.18]),
    (2681, [1.26, 1.18, 1.10, 1.02, 0.94, 0.86, 0.78, 0.70, 0.62, 0.54, 0.46, 0.38, 0.30, 0.22, 0.14, 0.06]),
    (2684, [3.23, 3.15, 3.04, 2.90, 2.62, 2.37, 2.28, 2.20, 2.05, 1.75, 1.68, 1.60, 1.52, 1.45, 1.38, 1.32, 1.24, 1.10, 0.96, 0.82, 0.68, 0.54, 0.40, 0.26, 0.12, 0.03]),
]
A_CHR20 = [
    (2719, [1.55, 1.48, 1.40, 1.33, 1.22, 1.05, 0.88, 0.70, 0.52, 0.35, 0.18, 0.04]),
    (2729, [2.30, 2.10, 2.02, 1.94, 1.86, 1.78, 1.70, 1.62, 1.55, 1.48, 1.40, 1.33, 1.24, 1.10, 0.96, 0.82, 0.68, 0.54, 0.40, 0.26, 0.12]),
    (2732, [1.27, 1.19, 1.11, 1.03, 0.95, 0.87, 0.79, 0.71, 0.63, 0.55, 0.47, 0.39, 0.31, 0.23, 0.15, 0.07]),
    (2744, [2.93, 2.81, 2.00, 1.90, 1.75, 1.65, 1.55, 1.45, 1.35, 1.22, 1.05, 0.88, 0.70, 0.52, 0.35, 0.18, 0.04]),
    (2747, [1.25, 1.16, 1.07, 0.98, 0.89, 0.80, 0.71, 0.62, 0.53, 0.44, 0.35, 0.26, 0.17, 0.08]),
    (2753, [2.48, 2.40, 2.30, 2.10, 1.98, 1.85, 1.72, 1.60, 1.50, 1.28, 1.10, 0.90, 0.70, 0.50, 0.30, 0.10]),
    (2756, [1.23, 1.13, 1.03, 0.93, 0.83, 0.73, 0.63, 0.53, 0.43, 0.33, 0.23, 0.13, 0.03]),
]
A_CHR21 = [
    (2781, [1.02, 0.62, 0.35, 0.22]),
    (2793, [2.69, 2.62, 2.55, 2.39, 2.32, 2.25, 2.15, 2.06, 1.95, 1.88, 1.80, 1.72, 1.64, 1.56, 1.48, 1.40, 1.33, 1.25, 1.12, 1.00, 0.88, 0.76, 0.64, 0.52, 0.40, 0.28, 0.16, 0.04]),
    (2796, [1.27, 1.19, 1.11, 1.03, 0.95, 0.87, 0.79, 0.71, 0.63, 0.55, 0.47, 0.39, 0.31, 0.23, 0.15, 0.07]),
    (2805, [2.25, 2.04, 1.96, 1.84, 1.78, 1.25, 1.00, 0.75, 0.50, 0.25]),
]
A_CHR22 = [
    (2822, [2.23, 1.91, 1.87, 1.76, 1.72, 1.45, 1.38, 1.22, 1.05, 0.88, 0.70, 0.52, 0.35, 0.18, 0.04]),
    (2825, [1.26, 1.16, 1.06, 0.96, 0.86, 0.76, 0.66, 0.56, 0.46, 0.36, 0.26, 0.16, 0.06]),
    (2838, [1.18, 0.95, 0.72, 0.45, 0.22, 0.08]),
    (2852, [1.27, 1.18, 1.09, 1.00, 0.91, 0.82, 0.73, 0.64, 0.55, 0.46, 0.37, 0.28, 0.19, 0.10, 0.02]),
    (2855, [2.62, 2.00, 1.90, 1.82, 1.75, 1.68, 1.60, 1.52, 1.45, 1.38, 1.32, 1.22, 1.08, 0.94, 0.80, 0.66, 0.52, 0.38, 0.24, 0.10]),
]

# ---------------- HLCS (panel B) ----------------
B_CHR1 = [
    (9, [1.17, 1.12, 1.07, 0.94, 0.90, 0.87, 0.81, 0.77, 0.73, 0.66, 0.55, 0.48, 0.40, 0.31, 0.27, 0.22, 0.17, 0.12, 0.07, 0.03]),
    (34, [0.27, 0.25]),
    (74, [1.39, 1.16, 0.81, 0.63, 0.58, 0.51, 0.43, 0.39, 0.35, 0.30, 0.25]),
    (98, [2.41, 2.07, 2.04, 2.01, 1.98, 1.95, 1.92, 1.89, 1.87, 1.80, 1.75, 1.72, 1.62, 1.27, 0.86, 0.83, 0.77, 0.51, 0.45, 0.40, 0.37, 0.20, 0.18, 0.15, 0.04]),
    (116, [0.46, 0.44]),
    (175, [1.04, 1.01, 0.97, 0.93, 0.89, 0.85, 0.63, 0.58, 0.56, 0.44, 0.39, 0.36, 0.21, 0.19]),
    (204, [0.88, 0.16, 0.12, 0.08, 0.04]),
    (233, [1.50, 1.46, 1.42, 1.38, 1.35, 1.32, 1.28, 0.79, 0.54]),
]
B_CHR2 = [
    (263, [3.13, 3.10, 2.69, 2.57, 2.48, 2.43, 2.33, 2.28, 2.22, 1.95, 1.92, 1.85, 1.39, 1.05, 1.02, 0.99, 0.95, 0.89, 0.73, 0.29, 0.24]),
    (292, [1.03, 0.46, 0.40, 0.33, 0.27]),
    (316, [1.82, 1.04, 0.77, 0.11]),
    (348, [1.57, 1.54, 1.50, 1.46, 1.42, 1.38, 1.36, 0.72, 0.65, 0.60, 0.55, 0.50, 0.45, 0.40, 0.28, 0.18, 0.13]),
    (391, [0.85, 0.83, 0.69]),
    (412, [0.61, 0.27]),
    (438, [0.76, 0.73, 0.58, 0.51, 0.45, 0.40, 0.35, 0.30, 0.25, 0.13, 0.08, 0.04]),
    (489, [1.86, 1.50, 0.97, 0.94, 0.43, 0.25, 0.10, 0.06, 0.02]),
]
B_CHR3 = [
    (497, [1.04]),
    (542, [0.92, 0.54]),
    (574, [2.42, 2.38, 2.33, 2.30, 2.26, 2.20, 2.15, 2.10, 2.05, 2.00, 1.98, 1.93, 1.85, 1.80, 1.62, 1.52, 1.49, 1.45, 1.42, 1.26, 1.20, 1.14, 1.10, 1.05, 1.00, 0.96, 0.90, 0.85, 0.80, 0.76, 0.72, 0.66, 0.62, 0.55, 0.50, 0.45, 0.40, 0.36, 0.31, 0.27, 0.22, 0.18, 0.14, 0.10, 0.06, 0.02]),
    (610, [0.06, 0.04]),
    (628, [0.73, 0.70, 0.66, 0.62, 0.36, 0.34, 0.31, 0.20, 0.17]),
]
B_CHR4 = [
    (646, [0.05, 0.03, 0.01]),
    (733, [1.04, 1.00, 0.89, 0.60, 0.54, 0.49, 0.28, 0.23, 0.10, 0.04, 0.02]),
    (743, [1.31]),
    (766, [0.40, 0.34, 0.29]),
    (805, [0.20, 0.17]),
    (834, [0.93]),
    (837, [1.74]),
]
B_CHR5 = [
    (976, [0.29, 0.25]),
    (989, [1.34, 1.13, 0.91, 0.62, 0.55, 0.50, 0.45, 0.41, 0.35, 0.28, 0.24, 0.19]),
    (1008, [0.62]),
    (1034, [2.34]),
]
B_CHR6 = [
    (1036, [0.10]),
    (1056, [0.73, 0.68, 0.62, 0.58, 0.54, 0.51, 0.29, 0.24, 0.20, 0.18, 0.16]),
    (1068, [0.95, 0.82, 0.68, 0.51, 0.46, 0.22, 0.18, 0.15, 0.05]),
    (1122, [0.17]),
    (1132, [0.61, 0.51, 0.40, 0.32, 0.30, 0.22]),
    (1176, [0.09]),
    (1185, [0.99]),
    (1208, [0.36, 0.30, 0.20, 0.16, 0.12, 0.08, 0.05, 0.02]),
]
B_CHR7 = [
    (1227, [0.10]),
    (1286, [0.64, 0.58, 0.41, 0.38, 0.33, 0.30, 0.26, 0.22, 0.15, 0.12, 0.08, 0.04]),
    (1307, [1.14, 0.54, 0.15, 0.10, 0.06, 0.02]),
    (1338, [1.49, 0.99, 0.57, 0.39, 0.32]),
    (1362, [0.08]),
]
B_CHR8 = [
    (1428, [0.77, 0.64, 0.60, 0.56, 0.52, 0.49, 0.45, 0.42, 0.38, 0.34, 0.30, 0.27, 0.23, 0.20, 0.17, 0.13, 0.09, 0.06]),
    (1445, [1.44, 0.28, 0.23]),
    (1468, [0.74, 0.46]),
    (1511, [0.96, 0.89, 0.86, 0.67, 0.63, 0.61, 0.38, 0.22, 0.19, 0.17]),
]
B_CHR9 = [
    (1517, [1.19, 0.67, 0.62, 0.57, 0.52, 0.50, 0.46, 0.39, 0.34, 0.30, 0.25, 0.21, 0.17, 0.13, 0.09, 0.05, 0.03]),
    (1520, [1.53]),
    (1532, [1.52, 1.11, 0.67, 0.58, 0.28, 0.20, 0.18, 0.06, 0.04]),
    (1548, [0.43]),
    (1593, [0.71]),
    (1622, [0.13, 0.10, 0.07, 0.04, 0.01]),
    (1634, [2.65]),
    (1658, [1.03, 0.36, 0.29, 0.26, 0.23, 0.20]),
]
B_CHR10 = [
    (1668, [0.67, 0.61, 0.32, 0.25, 0.13, 0.10, 0.02]),
    (1697, [0.34]),
    (1729, [1.11, 1.06, 0.99, 0.48, 0.42, 0.28, 0.16, 0.10, 0.07, 0.04, 0.01]),
    (1783, [0.59, 0.36, 0.34, 0.31, 0.18, 0.14, 0.09]),
    (1803, [0.81, 0.79, 0.67, 0.57, 0.48, 0.29, 0.26, 0.21]),
]
B_CHR11 = [
    (1806, [0.19]),
    (1815, [0.64, 0.44, 0.03]),
    (1905, [1.09, 0.82, 0.79, 0.44, 0.21, 0.17, 0.14, 0.11]),
    (1908, [0.08]),
    (1940, [0.93, 0.87, 0.79, 0.75, 0.68, 0.49, 0.46, 0.44, 0.37, 0.33, 0.26, 0.25, 0.19, 0.09]),
]
B_CHR12 = [
    (1952, [1.19, 0.63]),
    (2062, [0.35, 0.33, 0.24, 0.18]),
    (2067, [1.14]),
    (2070, [1.36]),
    (2077, [0.97, 0.41]),
]
B_CHR13 = [
    (2111, [1.11, 1.08, 1.06, 0.89, 0.81, 0.52, 0.49, 0.46, 0.41, 0.35, 0.32, 0.29, 0.12, 0.07, 0.06]),
    (2123, [0.55, 0.35, 0.06]),
    (2188, [0.41]),
    (2201, [1.75, 1.72, 1.57, 1.54, 1.51, 1.48, 1.45, 1.42, 1.39, 1.36, 1.33, 1.31, 1.25, 1.20, 1.15, 1.10, 1.08, 0.95, 0.53, 0.41, 0.36, 0.33, 0.30, 0.27, 0.24, 0.21, 0.18, 0.15, 0.12, 0.09, 0.06, 0.03, 0.01]),
]
B_CHR14 = [
    (2221, [0.13]),
    (2270, [1.79, 1.26, 1.04, 0.89, 0.81, 0.78, 0.76, 0.70, 0.66, 0.63, 0.59, 0.56, 0.41, 0.33, 0.30, 0.28, 0.21, 0.18, 0.05]),
    (2295, [1.02, 0.34, 0.30, 0.26, 0.21]),
    (2303, [0.10]),
]
B_CHR15 = [
    (2330, [1.11, 0.96, 0.62, 0.18, 0.12, 0.08, 0.05, 0.01]),
    (2348, [0.15, 0.07]),
    (2361, [1.26]),
    (2373, [1.56, 1.42, 1.40, 1.16, 1.06, 1.01, 0.94, 0.92, 0.84, 0.82, 0.80, 0.73, 0.70, 0.66, 0.62, 0.58, 0.54, 0.50, 0.47, 0.43, 0.39, 0.35, 0.31, 0.27, 0.24, 0.20, 0.16, 0.12, 0.08, 0.05, 0.01]),
    (2391, [0.73, 0.35, 0.32, 0.30, 0.18, 0.08]),
    (2413, [0.81, 0.38, 0.04]),
]
B_CHR16 = [
    (2477, [0.67, 0.65, 0.59, 0.47, 0.08]),
    (2491, [0.57, 0.52, 0.48, 0.44, 0.39]),
]
B_CHR17 = [
    (2517, [0.25, 0.22, 0.19]),
    (2544, [0.90, 0.77, 0.70]),
    (2572, [0.22, 0.20]),
]
B_CHR18 = [
    (2630, [1.19, 1.08, 0.74, 0.71, 0.66, 0.59, 0.56, 0.53, 0.50, 0.47, 0.44, 0.41, 0.38, 0.35, 0.33, 0.30, 0.27, 0.24, 0.21, 0.18, 0.15, 0.12, 0.09, 0.06, 0.03, 0.01]),
]
B_CHR19 = [
    (2638, [0.81, 0.46, 0.22, 0.16, 0.12, 0.08]),
    (2642, [2.62, 2.44, 2.09]),
    (2672, [1.45]),
    (2684, [1.15, 1.05, 0.99, 0.80, 0.69, 0.61]),
    (2686, [1.43, 1.41]),
]
B_CHR20 = [
    (2722, [0.37, 0.31, 0.26, 0.22, 0.19, 0.09, 0.02]),
    (2737, [0.29, 0.10]),
    (2745, [0.47, 0.37, 0.35, 0.30, 0.26, 0.21]),
]
B_CHR21 = [
    (2787, [1.22, 1.09, 0.80, 0.75, 0.50, 0.44, 0.38, 0.31, 0.29, 0.25, 0.23, 0.16, 0.14, 0.04]),
    (2802, [1.11, 0.86, 0.21, 0.13]),
]
B_CHR22 = [
    (2850, [0.33, 0.23, 0.21, 0.17]),
]

A_DATA = [A_CHR1, A_CHR2, A_CHR3, A_CHR4, A_CHR5, A_CHR6, A_CHR7, A_CHR8, A_CHR9, A_CHR10, A_CHR11,
          A_CHR12, A_CHR13, A_CHR14, A_CHR15, A_CHR16, A_CHR17, A_CHR18, A_CHR19, A_CHR20, A_CHR21, A_CHR22]
B_DATA = [B_CHR1, B_CHR2, B_CHR3, B_CHR4, B_CHR5, B_CHR6, B_CHR7, B_CHR8, B_CHR9, B_CHR10, B_CHR11,
          B_CHR12, B_CHR13, B_CHR14, B_CHR15, B_CHR16, B_CHR17, B_CHR18, B_CHR19, B_CHR20, B_CHR21, B_CHR22]

# highlighted SNPs: (gene, rsid, position, -log10 P)
A_HITS = [("LRRC8C", "rs10493829", 98, 3.37), ("OAS2", "rs2239193", 2056, 2.60), ("CCL25", "rs3136651", 2646, 2.25)]
B_HITS = [("LRRC8C", "rs10493829", 98, 1.98), ("OAS2", "rs2239193", 2070, 1.36), ("CCL25", "rs3136651", 2642, 2.09)]
# label anchor (left edge x, centre y) for each hit label
A_LABEL_POS = [(0, 3.74), (1829, 3.13), (2449, 2.90)]
B_LABEL_POS = [(34, 2.185), (1804, 1.684), (2418, 2.323)]
A_BFDP_LABEL = (25, 1.86)
A_P_LABEL = (25, 1.10)
B_P_LABEL = (35, 1.224)

A_TITLE = "T-cell exhaustion related genes manhattan plot in PLCO"
B_TITLE = "T-cell exhaustion related genes manhattan plot in HLCS"

# ---------------- layout geometry (pixels of the 3711 x 3784 page) ----------------
def px(x):
    return x / W


def py(y):
    return 1 - y / H


A_DOM_X = [px(338), px(3684)]
A_DOM_Y = [py(1725), py(132)]
B_DOM_X = [px(326), px(3684)]
B_DOM_Y = [py(3636), py(2039)]
A_YMAX = 8.09
B_YMAX = 3.394
X_RANGE = [0, 3000]

fig = go.Figure()


def add_panel(data, xa, ya, sig_size, ns_size, leg_row1, leg_row2):
    for i, loci in enumerate(data):
        color = CHR_COLORS[i]
        xs_s, ys_s, xs_n, ys_n = [], [], [], []
        for pos, vals in loci:
            for v in vals:
                if v > P05_LINE:
                    xs_s.append(pos)
                    ys_s.append(v)
                else:
                    xs_n.append(pos)
                    ys_n.append(v)
        fig.add_trace(go.Scatter(x=xs_n, y=ys_n, mode="markers", xaxis=xa, yaxis=ya,
                                 marker=dict(symbol="square", size=ns_size, color=color, line=dict(width=0)),
                                 showlegend=False, hoverinfo="skip"))
        fig.add_trace(go.Scatter(x=xs_s, y=ys_s, mode="markers", xaxis=xa, yaxis=ya,
                                 marker=dict(symbol="square", size=sig_size, color=color, line=dict(width=0)),
                                 showlegend=False, hoverinfo="skip"))
    for i, name in enumerate(CHROMS):
        fig.add_trace(go.Scatter(x=[None], y=[None], mode="lines", xaxis=xa, yaxis=ya,
                                 line=dict(color=CHR_COLORS[i], width=14), name=name,
                                 legend=leg_row1 if i < 20 else leg_row2, showlegend=True))


add_panel(A_DATA, "x", "y", 14, 6, "legend", "legend2")
add_panel(B_DATA, "x2", "y2", 12, 5, "legend3", "legend4")

TICKFONT = dict(family=FONT, size=30, color="#333333")
axis_common = dict(showline=True, linecolor="#8C8C8C", linewidth=3, mirror=True, zeroline=False)

fig.update_layout(
    width=W, height=H,
    margin=dict(l=0, r=0, t=0, b=0),
    paper_bgcolor="white", plot_bgcolor="white",
    font=dict(family=FONT),
    xaxis=dict(domain=A_DOM_X, range=X_RANGE, showticklabels=False, ticks="", showgrid=False,
               anchor="y", **axis_common),
    yaxis=dict(domain=A_DOM_Y, range=[0, A_YMAX], dtick=0.25, tick0=0, tickformat=".2f",
               ticks="outside", ticklen=12, tickwidth=2, tickcolor="#8C8C8C", tickfont=TICKFONT,
               showgrid=True, gridcolor="#BEBEBE", gridwidth=2, griddash="dot", anchor="x",
               title=dict(text="-log10(P)", font=dict(family=FONT, size=28, color="#333333"), standoff=12),
               **axis_common),
    xaxis2=dict(domain=B_DOM_X, range=X_RANGE, showticklabels=False, ticks="", showgrid=False,
                anchor="y2", **axis_common),
    yaxis2=dict(domain=B_DOM_Y, range=[0, B_YMAX], dtick=0.1, tick0=0, tickformat=".1f",
                ticks="outside", ticklen=12, tickwidth=2, tickcolor="#8C8C8C", tickfont=TICKFONT,
                showgrid=True, gridcolor="#BEBEBE", gridwidth=2, griddash="dot", anchor="x2",
                title=dict(text="-log10(P)", font=dict(family=FONT, size=28, color="#333333"), standoff=18),
                **axis_common),
)

LEG = dict(orientation="h", xanchor="left", yanchor="middle", bgcolor="rgba(0,0,0,0)",
           borderwidth=0, font=dict(family=FONT, size=32, color="#222222"), itemwidth=72,
           itemclick=False, itemdoubleclick=False, tracegroupgap=0)
fig.update_layout(
    legend=dict(x=px(184), y=py(1769), **LEG),
    legend2=dict(x=px(184), y=py(1827), **LEG),
    legend3=dict(x=px(184), y=py(3678), **LEG),
    legend4=dict(x=px(184), y=py(3733), **LEG),
)

shapes = []
# panel backgrounds, white plot areas and legend boxes
for (gy0, gy1, ly1, dx, dy) in [(56, 1736, 1855, A_DOM_X, A_DOM_Y), (1967, 3644, 3764, B_DOM_X, B_DOM_Y)]:
    shapes.append(dict(type="rect", xref="paper", yref="paper", x0=px(181), x1=px(3697), y0=py(gy1), y1=py(gy0),
                       fillcolor="#EEEEEE", line=dict(color="#C4C4C4", width=2), layer="below"))
    shapes.append(dict(type="rect", xref="paper", yref="paper", x0=dx[0], x1=dx[1], y0=dy[0], y1=dy[1],
                       fillcolor="white", line=dict(width=0), layer="below"))
    shapes.append(dict(type="rect", xref="paper", yref="paper", x0=px(181), x1=px(3697), y0=py(ly1), y1=py(gy1),
                       fillcolor="white", line=dict(color="#111111", width=4), layer="below"))
# threshold lines
shapes.append(dict(type="line", xref="x domain", yref="y", x0=0, x1=1, y0=BFDP_LINE, y1=BFDP_LINE,
                   line=dict(color="#FF0000", width=2.5), layer="above"))
shapes.append(dict(type="line", xref="x domain", yref="y", x0=0, x1=1, y0=P05_LINE, y1=P05_LINE,
                   line=dict(color="#0000FF", width=2.5), layer="above"))
shapes.append(dict(type="line", xref="x2 domain", yref="y2", x0=0, x1=1, y0=P05_LINE, y1=P05_LINE,
                   line=dict(color="#0000FF", width=2.5), layer="above"))
# ellipses round the highlighted SNPs
for hits, xr, yr in [(A_HITS, "x", "y"), (B_HITS, "x2", "y2")]:
    for gene, rs, pos, val in hits:
        shapes.append(dict(type="circle", xref=xr, yref=yr, xsizemode="pixel", ysizemode="pixel",
                           xanchor=pos, yanchor=val, x0=-35, x1=35, y0=-26, y1=26,
                           line=dict(color="black", width=8), layer="above"))
fig.update_layout(shapes=shapes)

LABEL_FONT = dict(family=FONT, size=60, color="black")
ann = []
for hits, lpos, xr, yr in [(A_HITS, A_LABEL_POS, "x", "y"), (B_HITS, B_LABEL_POS, "x2", "y2")]:
    for (gene, rs, pos, val), (lx, ly) in zip(hits, lpos):
        ann.append(dict(text=f"<b><i>{gene}</i> {rs}</b>", x=lx, y=ly, xref=xr, yref=yr,
                        xanchor="left", yanchor="middle", showarrow=False, font=LABEL_FONT))
ann.append(dict(text="<b>BFDP = 0.80</b>", x=A_BFDP_LABEL[0], y=A_BFDP_LABEL[1], xref="x", yref="y",
                xanchor="left", yanchor="middle", showarrow=False, font=LABEL_FONT))
ann.append(dict(text="<b><i>P</i> = 0.05</b>", x=A_P_LABEL[0], y=A_P_LABEL[1], xref="x", yref="y",
                xanchor="left", yanchor="middle", showarrow=False, font=LABEL_FONT))
ann.append(dict(text="<b><i>P</i> = 0.05</b>", x=B_P_LABEL[0], y=B_P_LABEL[1], xref="x2", yref="y2",
                xanchor="left", yanchor="middle", showarrow=False, font=LABEL_FONT))
# titles and panel letters
ann.append(dict(text=f"<b>{A_TITLE}</b>", x=px(1939), y=py(88), xref="paper", yref="paper",
                xanchor="center", yanchor="middle", showarrow=False, font=dict(family=FONT, size=50, color="#111111")))
ann.append(dict(text=f"<b>{B_TITLE}</b>", x=px(1939), y=py(1999), xref="paper", yref="paper",
                xanchor="center", yanchor="middle", showarrow=False, font=dict(family=FONT, size=50, color="#111111")))
ann.append(dict(text="A", x=px(54), y=py(4), xref="paper", yref="paper", xanchor="center", yanchor="top",
                showarrow=False, font=dict(family=FONT, size=100, color="black")))
ann.append(dict(text="B", x=px(54), y=py(1936), xref="paper", yref="paper", xanchor="center", yanchor="top",
                showarrow=False, font=dict(family=FONT, size=100, color="black")))
fig.update_layout(annotations=ann)

fig.write_html("out.html")
